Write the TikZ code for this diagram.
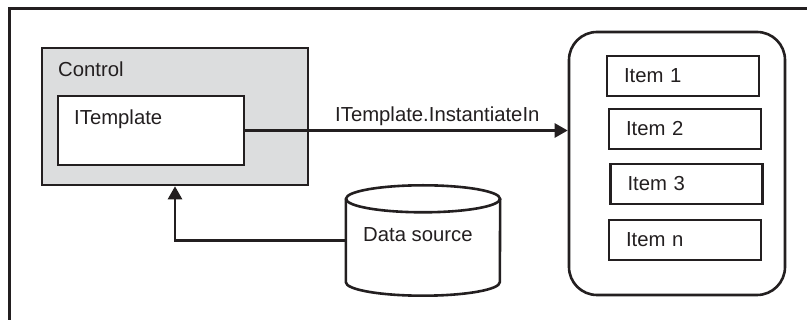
\documentclass[tikz,border=0pt]{standalone}
\usepackage{fontspec}
\setmainfont{Liberation Sans}
\usetikzlibrary{arrows.meta}
\definecolor{ink}{HTML}{231F20}
\definecolor{boxgray}{HTML}{DCDDDE}
\begin{document}
\begin{tikzpicture}[x=1pt,y=-1pt,
  every node/.style={font=\fontsize{20.3}{23}\selectfont, text=ink},
  box/.style={draw=ink, line width=2.6pt, rectangle, inner sep=0pt},
  itembox/.style={box, fill=white, minimum width=152pt, minimum height=40pt, text width=118pt, inner xsep=17pt, align=left},
  lbl/.style={anchor=base west, inner sep=0pt},
  conn/.style={draw=ink, line width=2.6pt, -{Triangle[length=13pt,width=14pt]}},
  shapeline/.style={draw=ink, line width=2.6pt}
]
\useasboundingbox (0,0) rectangle (807,320);
\draw[ink, line width=3pt] (9,322) -- (9,9) -- (809,9);

% Control and ITemplate
\node[box, fill=boxgray, minimum width=266pt, minimum height=137pt] (control) at (175,116.5) {};
\node[box, fill=white, minimum width=186pt, minimum height=69pt] (itpl) at (151,130.5) {};
\node[lbl] (ctltext) at (58,77) {Control};
\node[lbl] (itpltext) at (74,125) {ITemplate};

% Items container
\node[box, rounded corners=28pt, minimum width=216pt, minimum height=263pt] (items) at (677,163.5) {};
\node[itembox] (item1) at (683,76) {Item 1};
\node[itembox] (item2) at (685,129) {Item 2};
\node[itembox] (item3) at (686.5,184) {Item 3};
\node[itembox] (itemn) at (685,240) {Item n};

% InstantiateIn arrow
\draw[conn] (itpl.east) -- (itpl.east -| items.west);
\node[lbl] (instlbl) at (335,122) {ITemplate.InstantiateIn};

% Data source cylinder
\node[minimum width=154pt, minimum height=83pt, inner sep=0pt] (ds) at (423,240.5) {};
\path[shapeline, fill=white] (ds.north west) -- (ds.south west)
  arc[start angle=180, end angle=360, x radius=77pt, y radius=13.5pt] -- (ds.north east);
\draw[shapeline] (ds.north) ellipse[x radius=77pt, y radius=13.5pt];
\node[lbl] (dstext) at (363,241.5) {Data source};

% Data source to Control
\draw[conn] (ds.west) -| (control.south);
\end{tikzpicture}
\end{document}
